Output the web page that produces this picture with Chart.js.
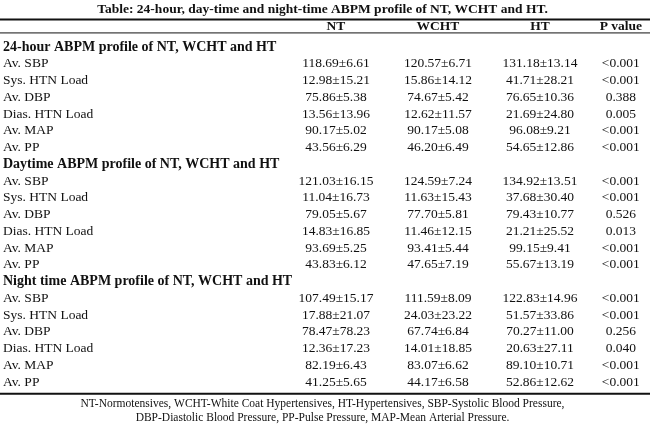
<!DOCTYPE html>
<html>
<head>
<meta charset="utf-8">
<script src="https://cdn.jsdelivr.net/npm/chart.js@4.4.1/dist/chart.umd.min.js"></script>
<style>
  html, body { margin: 0; padding: 0; background: #fff; }
  #wrap { width: 650px; height: 428px; }
</style>
</head>
<body>
<div id="wrap"><canvas id="c" width="650" height="428"></canvas></div>
<script>
// ---------- DATA ----------
const titleText = 'Table: 24-hour, day-time and night-time ABPM profile of NT, WCHT and HT.';
const columns = ['NT', 'WCHT', 'HT', 'P value'];
const sections = [
  '24-hour ABPM profile of NT, WCHT and HT',
  'Daytime ABPM profile of NT, WCHT and HT',
  'Night time ABPM profile of NT, WCHT and HT'
];
const measures = ['Av. SBP', 'Sys. HTN Load', 'Av. DBP', 'Dias. HTN Load', 'Av. MAP', 'Av. PP'];

const ntValues = [
  '118.69±6.61', '12.98±15.21', '75.86±5.38', '13.56±13.96', '90.17±5.02', '43.56±6.29',
  '121.03±16.15', '11.04±16.73', '79.05±5.67', '14.83±16.85', '93.69±5.25', '43.83±6.12',
  '107.49±15.17', '17.88±21.07', '78.47±78.23', '12.36±17.23', '82.19±6.43', '41.25±5.65'
];
const wchtValues = [
  '120.57±6.71', '15.86±14.12', '74.67±5.42', '12.62±11.57', '90.17±5.08', '46.20±6.49',
  '124.59±7.24', '11.63±15.43', '77.70±5.81', '11.46±12.15', '93.41±5.44', '47.65±7.19',
  '111.59±8.09', '24.03±23.22', '67.74±6.84', '14.01±18.85', '83.07±6.62', '44.17±6.58'
];
const htValues = [
  '131.18±13.14', '41.71±28.21', '76.65±10.36', '21.69±24.80', '96.08±9.21', '54.65±12.86',
  '134.92±13.51', '37.68±30.40', '79.43±10.77', '21.21±25.52', '99.15±9.41', '55.67±13.19',
  '122.83±14.96', '51.57±33.86', '70.27±11.00', '20.63±27.11', '89.10±10.71', '52.86±12.62'
];
const pValues = [
  '<0.001', '<0.001', '0.388', '0.005', '<0.001', '<0.001',
  '<0.001', '<0.001', '0.526', '0.013', '<0.001', '<0.001',
  '<0.001', '<0.001', '0.256', '0.040', '<0.001', '<0.001'
];
const footnoteLines = [
  'NT-Normotensives, WCHT-White Coat Hypertensives, HT-Hypertensives, SBP-Systolic Blood Pressure,',
  'DBP-Diastolic Blood Pressure, PP-Pulse Pressure, MAP-Mean Arterial Pressure.'
];

// ---------- BUILD ROWS ----------
const FONT = "'Liberation Serif', 'Times New Roman', serif";
const INK = '#111';
const rowKeys = [];      // unique category keys for the y axis
const rowLabels = [];    // text shown for each row
const sectionRowIdx = [];
const cellKeys = [];     // y key for each data value
sections.forEach((s, si) => {
  sectionRowIdx.push(rowKeys.length);
  rowKeys.push(s);
  rowLabels.push(s);
  measures.forEach(m => {
    const key = s + ' | ' + m;
    cellKeys.push(key);
    rowKeys.push(key);
    rowLabels.push(m);
  });
});
const columnValues = [ntValues, wchtValues, htValues, pValues];

const datasets = columnValues.map((vals, ci) => ({
  label: columns[ci],
  data: vals.map((v, k) => ({ x: columns[ci], y: cellKeys[k], text: v })),
  pointRadius: 0,
  pointHoverRadius: 0,
  showLine: false
}));

// ---------- TABLE PLUGIN ----------
const tablePlugin = {
  id: 'tableText',
  afterDatasetsDraw(chart) {
    const { ctx, chartArea, scales } = chart;
    const ys = scales.y, xs = scales.x;
    const gap = ys.getPixelForValue(1) - ys.getPixelForValue(0);
    ctx.save();
    ctx.fillStyle = INK;
    ctx.textBaseline = 'middle';

    // header row
    ctx.font = 'bold 13.5px ' + FONT;
    const headerY = chartArea.top - 1.25 * gap;
    const lastIdx = columns.length - 1;
    const lastHeaderW = ctx.measureText(columns[lastIdx]).width;
    columns.forEach((c, ci) => {
      const px = xs.getPixelForValue(ci);
      ctx.textAlign = ci === lastIdx ? 'right' : 'center';
      ctx.fillText(c, px, headerY);
    });

    // cells
    ctx.font = '13.5px ' + FONT;
    ctx.textAlign = 'center';
    chart.data.datasets.forEach((ds, di) => {
      const meta = chart.getDatasetMeta(di);
      meta.data.forEach((el, k) => {
        const x = di === lastIdx ? el.x - lastHeaderW / 2 : el.x;
        ctx.fillText(ds.data[k].text, x, el.y);
      });
    });

    // rules
    ctx.strokeStyle = '#111';
    const w = chart.width;
    const rule = (y, lw) => {
      ctx.lineWidth = lw;
      ctx.beginPath(); ctx.moveTo(0, y); ctx.lineTo(w, y); ctx.stroke();
    };
    rule(chartArea.top - 1.64 * gap, 2);
    rule(chartArea.top - 0.84 * gap, 1);
    rule(chartArea.bottom + 0.7 * gap, 2);
    ctx.restore();
  }
};

new Chart(document.getElementById('c'), {
  type: 'scatter',
  data: { datasets },
  plugins: [tablePlugin],
  options: {
    responsive: false,
    animation: false,
    events: [],
    layout: { padding: { left: 3, right: 8, top: 0, bottom: 0 } },
    plugins: {
      legend: { display: false },
      tooltip: { enabled: false },
      title: {
        display: true,
        text: titleText,
        color: INK,
        font: { family: FONT, size: 13.5, weight: 'bold', lineHeight: 1.2 },
        padding: { top: 1, bottom: 29.8 }
      },
      subtitle: {
        display: true,
        position: 'bottom',
        text: footnoteLines,
        color: INK,
        font: { family: FONT, size: 11.5, lineHeight: 1.217 },
        padding: { top: 15, bottom: 3 }
      }
    },
    scales: {
      x: {
        type: 'category',
        labels: columns,
        offset: false,
        display: false
      },
      y: {
        type: 'category',
        labels: rowKeys,
        offset: false,
        grid: { display: false },
        border: { display: false },
        afterFit(scale) { scale.width = 333; },
        ticks: {
          autoSkip: false,
          crossAlign: 'far',
          padding: 0,
          color: INK,
          callback: (value, index) => rowLabels[index],
          font: (c) => ({
            family: FONT,
            size: sectionRowIdx.includes(c.index) ? 14 : 13.5,
            weight: sectionRowIdx.includes(c.index) ? 'bold' : 'normal'
          })
        }
      }
    }
  }
});
</script>
</body>
</html>
